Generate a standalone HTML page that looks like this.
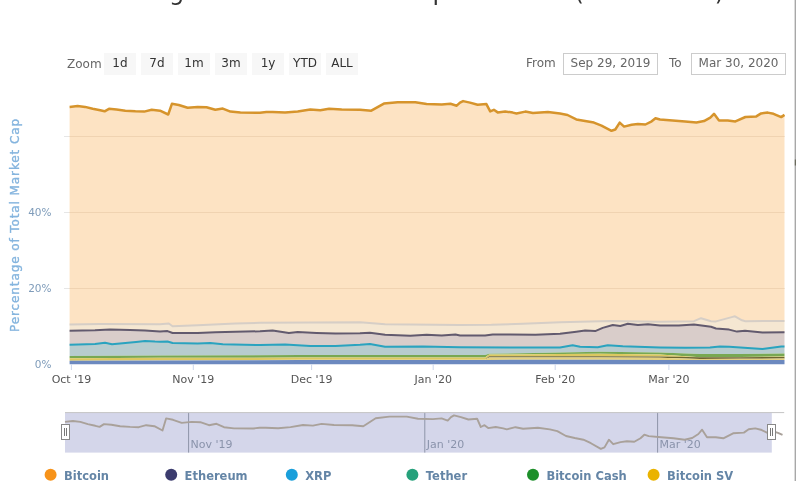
<!DOCTYPE html>
<html><head><meta charset="utf-8">
<style>
html,body{margin:0;padding:0;background:#fff;}
body{width:796px;height:481px;overflow:hidden;position:relative;}
svg{position:absolute;left:0;top:0;}
text{font-family:"DejaVu Sans",sans-serif;}
.xl{font-size:11px;fill:#555;}
.yl{font-size:10.5px;fill:#7f9cba;}
.btn{font-size:12px;fill:#333;}
.lab{font-size:12px;fill:#666;}
.inp{font-size:12px;fill:#666;}
.nl{font-size:11px;fill:#8a93ab;}
.lg{font-size:11.5px;font-weight:bold;fill:#6485a6;}
.ttl{font-size:24px;fill:#333;}
.yt{font-size:12px;letter-spacing:0.9px;fill:#84b4de;stroke:#84b4de;stroke-width:0.35px;}
</style></head>
<body>
<svg width="796" height="481" viewBox="0 0 796 481">
<text x="64" y="-0.4" class="ttl">Percentage of Total Market Ca</text><text x="432.5" y="-0.4" class="ttl">pitalization</text><text x="574.5" y="-0.4" class="ttl" letter-spacing="-0.55">(Dominance)</text>
<text x="67" y="67.6" class="lab">Zoom</text>
<rect x="104" y="53" width="32" height="22" fill="#f7f7f7"/><text x="120" y="67" text-anchor="middle" class="btn">1d</text><rect x="141" y="53" width="32" height="22" fill="#f7f7f7"/><text x="157" y="67" text-anchor="middle" class="btn">7d</text><rect x="178" y="53" width="32" height="22" fill="#f7f7f7"/><text x="194" y="67" text-anchor="middle" class="btn">1m</text><rect x="215" y="53" width="32" height="22" fill="#f7f7f7"/><text x="231" y="67" text-anchor="middle" class="btn">3m</text><rect x="252" y="53" width="32" height="22" fill="#f7f7f7"/><text x="268" y="67" text-anchor="middle" class="btn">1y</text><rect x="289" y="53" width="32" height="22" fill="#f7f7f7"/><text x="305" y="67" text-anchor="middle" class="btn">YTD</text><rect x="326" y="53" width="32" height="22" fill="#f7f7f7"/><text x="342" y="67" text-anchor="middle" class="btn">ALL</text>
<text x="526" y="67" class="lab">From</text>
<rect x="563.5" y="53.5" width="94" height="21" fill="#fff" stroke="#cccccc"/>
<text x="610.5" y="67" text-anchor="middle" class="inp">Sep 29, 2019</text>
<text x="669" y="67" class="lab">To</text>
<rect x="691.5" y="53.5" width="94" height="21" fill="#fff" stroke="#cccccc"/>
<text x="738.5" y="67" text-anchor="middle" class="inp">Mar 30, 2020</text>
<line x1="64" y1="136.5" x2="784.5" y2="136.5" stroke="#e6e6e6" stroke-width="1"/><line x1="64" y1="212.5" x2="784.5" y2="212.5" stroke="#e6e6e6" stroke-width="1"/><line x1="64" y1="288.5" x2="784.5" y2="288.5" stroke="#e6e6e6" stroke-width="1"/>
<polygon points="69.6,106.9 77.6,106.1 85.1,106.9 92.7,108.8 100.2,110.3 104.6,111.3 109.0,108.8 116.5,109.4 125.3,110.7 135.4,111.3 144.2,111.6 151.7,109.8 160.0,110.7 168.2,114.5 171.9,103.8 178.8,105.0 187.6,107.8 197.7,106.9 206.5,107.2 215.3,109.8 222.8,108.6 230.4,111.6 240.4,112.6 260.0,112.7 266.3,112.1 272.6,112.1 285.1,112.5 297.7,111.5 310.3,109.6 320.3,110.2 329.1,108.7 341.7,109.6 360.0,109.8 371.3,110.7 383.9,103.6 397.7,102.2 415.3,102.2 426.6,104.1 441.7,104.4 450.5,103.8 456.7,105.7 460.0,102.6 463.1,101.1 470.0,102.6 477.6,104.8 486.4,104.1 490.2,111.4 493.9,109.8 497.7,112.4 505.2,111.4 512.8,112.6 516.5,113.5 525.3,111.6 532.9,113.0 547.9,112.0 560.0,113.5 567.5,115.0 576.3,119.4 585.1,121.1 593.9,122.6 601.5,125.7 611.5,130.8 615.3,129.5 619.7,122.6 624.1,126.6 631.6,124.8 637.9,124.1 645.4,124.5 651.7,121.3 655.5,118.2 660.0,119.5 672.6,120.4 685.1,121.4 696.4,122.6 704.0,121.1 710.3,117.6 714.0,113.8 719.0,120.4 727.8,120.4 735.4,121.4 745.4,117.0 756.3,116.4 761.1,113.4 767.8,112.6 773.5,113.8 781.2,117.1 784.5,114.9 784.5,321.0 745.4,321.2 742.0,320.3 735.0,316.3 731.7,317.1 716.0,321.4 711.0,321.2 701.0,318.2 694.0,321.2 660.0,321.8 610.3,321.0 560.0,322.3 522.8,323.8 491.4,324.8 460.0,325.0 385.1,324.2 360.0,322.3 310.0,322.6 260.0,322.8 235.4,323.5 197.7,325.2 172.6,326.2 168.8,323.5 160.0,324.2 100.0,324.0 69.6,324.5" fill="#fde3c3"/><polygon points="69.6,324.5 100.0,324.0 160.0,324.2 168.8,323.5 172.6,326.2 197.7,325.2 235.4,323.5 260.0,322.8 310.0,322.6 360.0,322.3 385.1,324.2 460.0,325.0 491.4,324.8 522.8,323.8 560.0,322.3 610.3,321.0 660.0,321.8 694.0,321.2 701.0,318.2 711.0,321.2 716.0,321.4 731.7,317.1 735.0,316.3 742.0,320.3 745.4,321.2 784.5,321.0 784.5,332.3 762.5,332.4 745.0,330.7 737.0,331.6 729.1,329.6 716.0,328.5 711.0,326.8 694.0,324.4 678.8,325.6 660.0,325.5 648.0,324.2 637.9,325.0 627.8,323.8 620.3,326.0 612.8,325.0 602.7,327.9 595.2,331.1 585.1,330.4 576.3,331.7 560.0,333.8 535.4,334.8 510.3,334.6 492.7,334.6 485.1,335.5 460.0,335.5 455.5,334.6 441.7,335.5 426.6,334.8 410.3,335.8 385.1,334.8 370.0,332.7 360.0,333.3 335.4,333.6 316.5,333.0 297.7,332.1 288.9,333.0 272.6,330.4 260.0,331.3 235.4,331.7 215.3,332.3 197.7,333.0 172.6,333.0 167.5,331.1 160.0,331.5 145.0,330.6 130.0,330.0 110.0,329.4 95.0,330.2 69.6,330.7" fill="#f5e7d2"/><polygon points="69.6,330.7 95.0,330.2 110.0,329.4 130.0,330.0 145.0,330.6 160.0,331.5 167.5,331.1 172.6,333.0 197.7,333.0 215.3,332.3 235.4,331.7 260.0,331.3 272.6,330.4 288.9,333.0 297.7,332.1 316.5,333.0 335.4,333.6 360.0,333.3 370.0,332.7 385.1,334.8 410.3,335.8 426.6,334.8 441.7,335.5 455.5,334.6 460.0,335.5 485.1,335.5 492.7,334.6 510.3,334.6 535.4,334.8 560.0,333.8 576.3,331.7 585.1,330.4 595.2,331.1 602.7,327.9 612.8,325.0 620.3,326.0 627.8,323.8 637.9,325.0 648.0,324.2 660.0,325.5 678.8,325.6 694.0,324.4 711.0,326.8 716.0,328.5 729.1,329.6 737.0,331.6 745.0,330.7 762.5,332.4 784.5,332.3 784.5,346.6 781.2,346.5 762.5,349.0 729.3,346.8 719.8,346.6 710.0,347.6 685.1,347.8 660.0,347.4 622.8,346.2 607.7,345.2 597.7,347.2 580.1,346.8 572.6,345.3 560.0,347.5 510.3,347.4 460.0,347.2 422.8,346.5 385.1,346.8 370.0,343.9 360.0,344.8 335.4,345.9 310.3,345.9 285.1,344.6 260.0,345.0 222.8,344.3 210.3,343.0 197.7,343.4 172.6,343.0 167.5,341.5 160.0,341.8 155.0,341.6 145.0,340.9 136.0,341.9 112.0,344.2 105.0,342.8 95.0,344.0 69.6,344.8" fill="#d9cdca"/><polygon points="69.6,344.8 95.0,344.0 105.0,342.8 112.0,344.2 136.0,341.9 145.0,340.9 155.0,341.6 160.0,341.8 167.5,341.5 172.6,343.0 197.7,343.4 210.3,343.0 222.8,344.3 260.0,345.0 285.1,344.6 310.3,345.9 335.4,345.9 360.0,344.8 370.0,343.9 385.1,346.8 422.8,346.5 460.0,347.2 510.3,347.4 560.0,347.5 572.6,345.3 580.1,346.8 597.7,347.2 607.7,345.2 622.8,346.2 660.0,347.4 685.1,347.8 710.0,347.6 719.8,346.6 729.3,346.8 762.5,349.0 781.2,346.5 784.5,346.6 784.5,353.6 740.0,354.0 700.0,354.0 660.0,352.6 600.0,351.8 560.0,352.6 489.0,353.8 485.0,355.0 460.0,355.0 300.0,355.0 160.0,355.4 69.6,356.0" fill="#b7ccce"/><polygon points="69.6,356.0 160.0,355.4 300.0,355.0 460.0,355.0 485.0,355.0 489.0,353.8 560.0,352.6 600.0,351.8 660.0,352.6 700.0,354.0 740.0,354.0 784.5,353.6 784.5,356.6 740.0,357.0 700.0,357.2 660.0,354.4 600.0,353.8 560.0,354.0 489.0,354.6 485.0,357.6 460.0,357.6 300.0,357.6 160.0,357.8 69.6,358.2" fill="#78a852"/><polygon points="69.6,358.2 160.0,357.8 300.0,357.6 460.0,357.6 485.0,357.6 489.0,354.6 560.0,354.0 600.0,353.8 660.0,354.4 700.0,357.2 740.0,357.0 784.5,356.6 784.5,356.9 740.0,357.2 700.0,357.3 660.0,356.5 600.0,356.3 560.0,356.3 489.0,356.3 485.0,359.8 460.0,359.8 300.0,359.8 160.0,360.3 69.6,360.7" fill="#dcc860"/><polygon points="69.6,360.7 160.0,360.3 300.0,359.8 460.0,359.8 485.0,359.8 489.0,356.3 560.0,356.3 600.0,356.3 660.0,356.5 700.0,357.3 740.0,357.2 784.5,356.9 784.5,358.5 740.0,358.8 700.0,359.0 660.0,357.7 600.0,357.5 560.0,357.5 489.0,357.5 485.0,359.8 460.0,359.8 300.0,359.8 160.0,360.3 69.6,360.7" fill="#6e6630"/><polygon points="69.6,360.7 160.0,360.3 300.0,359.8 460.0,359.8 485.0,359.8 489.0,357.5 560.0,357.5 600.0,357.5 660.0,357.7 700.0,359.0 740.0,358.8 784.5,358.5 784.5,360.0 740.0,360.0 700.0,360.0 660.0,359.9 600.0,359.8 560.0,359.8 489.0,359.9 485.0,360.0 460.0,360.0 300.0,360.0 160.0,360.4 69.6,360.8" fill="#e4d080"/><polygon points="69.6,360.8 160.0,360.4 300.0,360.0 460.0,360.0 485.0,360.0 489.0,359.9 560.0,359.8 600.0,359.8 660.0,359.9 700.0,360.0 740.0,360.0 784.5,360.0 784.5,364.3 69.6,364.3" fill="#6c89bf"/>
<line x1="69.6" y1="136.5" x2="784.5" y2="136.5" stroke="#e8c9a6" stroke-width="1" opacity="0.6"/><line x1="69.6" y1="212.5" x2="784.5" y2="212.5" stroke="#e8c9a6" stroke-width="1" opacity="0.6"/><line x1="69.6" y1="288.5" x2="784.5" y2="288.5" stroke="#e8c9a6" stroke-width="1" opacity="0.6"/>
<polyline points="69.6,324.5 100.0,324.0 160.0,324.2 168.8,323.5 172.6,326.2 197.7,325.2 235.4,323.5 260.0,322.8 310.0,322.6 360.0,322.3 385.1,324.2 460.0,325.0 491.4,324.8 522.8,323.8 560.0,322.3 610.3,321.0 660.0,321.8 694.0,321.2 701.0,318.2 711.0,321.2 716.0,321.4 731.7,317.1 735.0,316.3 742.0,320.3 745.4,321.2 784.5,321.0" fill="none" stroke="#d6cec6" stroke-width="2" stroke-linejoin="round"/><polyline points="69.6,330.7 95.0,330.2 110.0,329.4 130.0,330.0 145.0,330.6 160.0,331.5 167.5,331.1 172.6,333.0 197.7,333.0 215.3,332.3 235.4,331.7 260.0,331.3 272.6,330.4 288.9,333.0 297.7,332.1 316.5,333.0 335.4,333.6 360.0,333.3 370.0,332.7 385.1,334.8 410.3,335.8 426.6,334.8 441.7,335.5 455.5,334.6 460.0,335.5 485.1,335.5 492.7,334.6 510.3,334.6 535.4,334.8 560.0,333.8 576.3,331.7 585.1,330.4 595.2,331.1 602.7,327.9 612.8,325.0 620.3,326.0 627.8,323.8 637.9,325.0 648.0,324.2 660.0,325.5 678.8,325.6 694.0,324.4 711.0,326.8 716.0,328.5 729.1,329.6 737.0,331.6 745.0,330.7 762.5,332.4 784.5,332.3" fill="none" stroke="#625a6e" stroke-width="2" stroke-linejoin="round"/><polyline points="69.6,344.8 95.0,344.0 105.0,342.8 112.0,344.2 136.0,341.9 145.0,340.9 155.0,341.6 160.0,341.8 167.5,341.5 172.6,343.0 197.7,343.4 210.3,343.0 222.8,344.3 260.0,345.0 285.1,344.6 310.3,345.9 335.4,345.9 360.0,344.8 370.0,343.9 385.1,346.8 422.8,346.5 460.0,347.2 510.3,347.4 560.0,347.5 572.6,345.3 580.1,346.8 597.7,347.2 607.7,345.2 622.8,346.2 660.0,347.4 685.1,347.8 710.0,347.6 719.8,346.6 729.3,346.8 762.5,349.0 781.2,346.5 784.5,346.6" fill="none" stroke="#2aa3bf" stroke-width="2" stroke-linejoin="round"/><polyline points="69.6,106.9 77.6,106.1 85.1,106.9 92.7,108.8 100.2,110.3 104.6,111.3 109.0,108.8 116.5,109.4 125.3,110.7 135.4,111.3 144.2,111.6 151.7,109.8 160.0,110.7 168.2,114.5 171.9,103.8 178.8,105.0 187.6,107.8 197.7,106.9 206.5,107.2 215.3,109.8 222.8,108.6 230.4,111.6 240.4,112.6 260.0,112.7 266.3,112.1 272.6,112.1 285.1,112.5 297.7,111.5 310.3,109.6 320.3,110.2 329.1,108.7 341.7,109.6 360.0,109.8 371.3,110.7 383.9,103.6 397.7,102.2 415.3,102.2 426.6,104.1 441.7,104.4 450.5,103.8 456.7,105.7 460.0,102.6 463.1,101.1 470.0,102.6 477.6,104.8 486.4,104.1 490.2,111.4 493.9,109.8 497.7,112.4 505.2,111.4 512.8,112.6 516.5,113.5 525.3,111.6 532.9,113.0 547.9,112.0 560.0,113.5 567.5,115.0 576.3,119.4 585.1,121.1 593.9,122.6 601.5,125.7 611.5,130.8 615.3,129.5 619.7,122.6 624.1,126.6 631.6,124.8 637.9,124.1 645.4,124.5 651.7,121.3 655.5,118.2 660.0,119.5 672.6,120.4 685.1,121.4 696.4,122.6 704.0,121.1 710.3,117.6 714.0,113.8 719.0,120.4 727.8,120.4 735.4,121.4 745.4,117.0 756.3,116.4 761.1,113.4 767.8,112.6 773.5,113.8 781.2,117.1 784.5,114.9" fill="none" stroke="#d6942c" stroke-width="2.5" stroke-linejoin="round"/>
<text x="51.5" y="368.2" text-anchor="end" class="yl">0%</text>
<text x="51.5" y="292" text-anchor="end" class="yl">20%</text>
<text x="51.5" y="216" text-anchor="end" class="yl">40%</text>
<text transform="translate(19.2,225) rotate(-90)" text-anchor="middle" class="yt">Percentage of Total Market Cap</text>
<line x1="71.4" y1="364.3" x2="71.4" y2="370" stroke="#ccd6eb" stroke-width="1"/><text x="71.4" y="382.5" text-anchor="middle" class="xl">Oct '19</text><line x1="193.3" y1="364.3" x2="193.3" y2="370" stroke="#ccd6eb" stroke-width="1"/><text x="193.3" y="382.5" text-anchor="middle" class="xl">Nov '19</text><line x1="311.6" y1="364.3" x2="311.6" y2="370" stroke="#ccd6eb" stroke-width="1"/><text x="311.6" y="382.5" text-anchor="middle" class="xl">Dec '19</text><line x1="433.2" y1="364.3" x2="433.2" y2="370" stroke="#ccd6eb" stroke-width="1"/><text x="433.2" y="382.5" text-anchor="middle" class="xl">Jan '20</text><line x1="555.2" y1="364.3" x2="555.2" y2="370" stroke="#ccd6eb" stroke-width="1"/><text x="555.2" y="382.5" text-anchor="middle" class="xl">Feb '20</text><line x1="668.9" y1="364.3" x2="668.9" y2="370" stroke="#ccd6eb" stroke-width="1"/><text x="668.9" y="382.5" text-anchor="middle" class="xl">Mar '20</text>
<rect x="65" y="412.6" width="706.8" height="40" fill="#d4d6ea"/>
<line x1="188.6" y1="412.6" x2="188.6" y2="452.6" stroke="#8e94a8" stroke-width="1"/><text x="190.6" y="448" class="nl">Nov '19</text><line x1="424.8" y1="412.6" x2="424.8" y2="452.6" stroke="#8e94a8" stroke-width="1"/><text x="426.8" y="448" class="nl">Jan '20</text><line x1="657.6" y1="412.6" x2="657.6" y2="452.6" stroke="#8e94a8" stroke-width="1"/><text x="659.6" y="448" class="nl">Mar '20</text>
<polyline points="65.0,421.9 72.9,421.0 80.3,421.9 87.8,424.1 95.3,425.8 99.6,426.9 104.0,424.1 111.4,424.7 120.1,426.2 130.1,426.9 138.8,427.2 146.2,425.2 154.4,426.2 162.5,430.5 166.1,418.4 173.0,419.8 181.7,422.9 191.6,421.9 200.3,422.2 209.0,425.2 216.5,423.8 224.0,427.2 233.9,428.4 253.2,428.5 259.5,427.8 265.7,427.8 278.1,428.2 290.5,427.1 303.0,425.0 312.9,425.6 321.6,423.9 334.0,425.0 352.1,425.2 363.3,426.2 375.7,418.2 389.4,416.6 406.8,416.6 418.0,418.7 432.9,419.1 441.6,418.4 447.7,420.6 451.0,417.1 454.0,415.4 460.9,417.1 468.4,419.5 477.1,418.7 480.8,427.0 484.5,425.2 488.2,428.1 495.7,427.0 503.2,428.4 506.8,429.4 515.5,427.2 523.1,428.8 537.9,427.7 549.8,429.4 557.3,431.1 566.0,436.0 574.7,438.0 583.4,439.7 590.9,443.2 600.8,448.9 604.5,447.4 608.9,439.7 613.2,444.2 620.6,442.1 626.9,441.3 634.3,441.8 640.5,438.2 644.3,434.7 648.7,436.1 661.2,437.2 673.5,438.3 684.7,439.7 692.2,438.0 698.4,434.0 702.1,429.7 707.0,437.2 715.7,437.2 723.3,438.3 733.1,433.3 743.9,432.6 748.7,429.3 755.3,428.4 760.9,429.7 768.5,433.4 771.8,431.0 778.0,432.8 782.5,434.8" fill="none" stroke="#a9a19a" stroke-width="1.9" stroke-linejoin="round"/>
<line x1="65" y1="412.6" x2="784.2" y2="412.6" stroke="#c4c4c4" stroke-width="1"/>
<rect x="61.5" y="424.5" width="8" height="15" fill="#ffffff" stroke="#888" stroke-width="1"/>
<line x1="64.5" y1="428" x2="64.5" y2="436" stroke="#777" stroke-width="1"/>
<line x1="66.5" y1="428" x2="66.5" y2="436" stroke="#777" stroke-width="1"/>
<rect x="767.5" y="424.5" width="8" height="15" fill="#ffffff" stroke="#888" stroke-width="1"/>
<line x1="770.5" y1="428" x2="770.5" y2="436" stroke="#777" stroke-width="1"/>
<line x1="772.5" y1="428" x2="772.5" y2="436" stroke="#777" stroke-width="1"/>
<circle cx="50.6" cy="474.8" r="6" fill="#f7931a"/><text x="64.0" y="480.2" class="lg">Bitcoin</text><circle cx="171.2" cy="474.8" r="6" fill="#3c3c6e"/><text x="184.6" y="480.2" class="lg">Ethereum</text><circle cx="291.8" cy="474.8" r="6" fill="#1a9fdb"/><text x="305.2" y="480.2" class="lg">XRP</text><circle cx="412.4" cy="474.8" r="6" fill="#26a17b"/><text x="425.8" y="480.2" class="lg">Tether</text><circle cx="533.0" cy="474.8" r="6" fill="#1d8f2a"/><text x="546.4" y="480.2" class="lg">Bitcoin Cash</text><circle cx="653.6" cy="474.8" r="6" fill="#eab300"/><text x="667.0" y="480.2" class="lg">Bitcoin SV</text>
<rect x="794.6" y="0" width="1.4" height="481" fill="#a8a8a8"/><rect x="794.8" y="159.5" width="1.2" height="6" fill="#6a6a5c"/>
</svg>
</body></html>
